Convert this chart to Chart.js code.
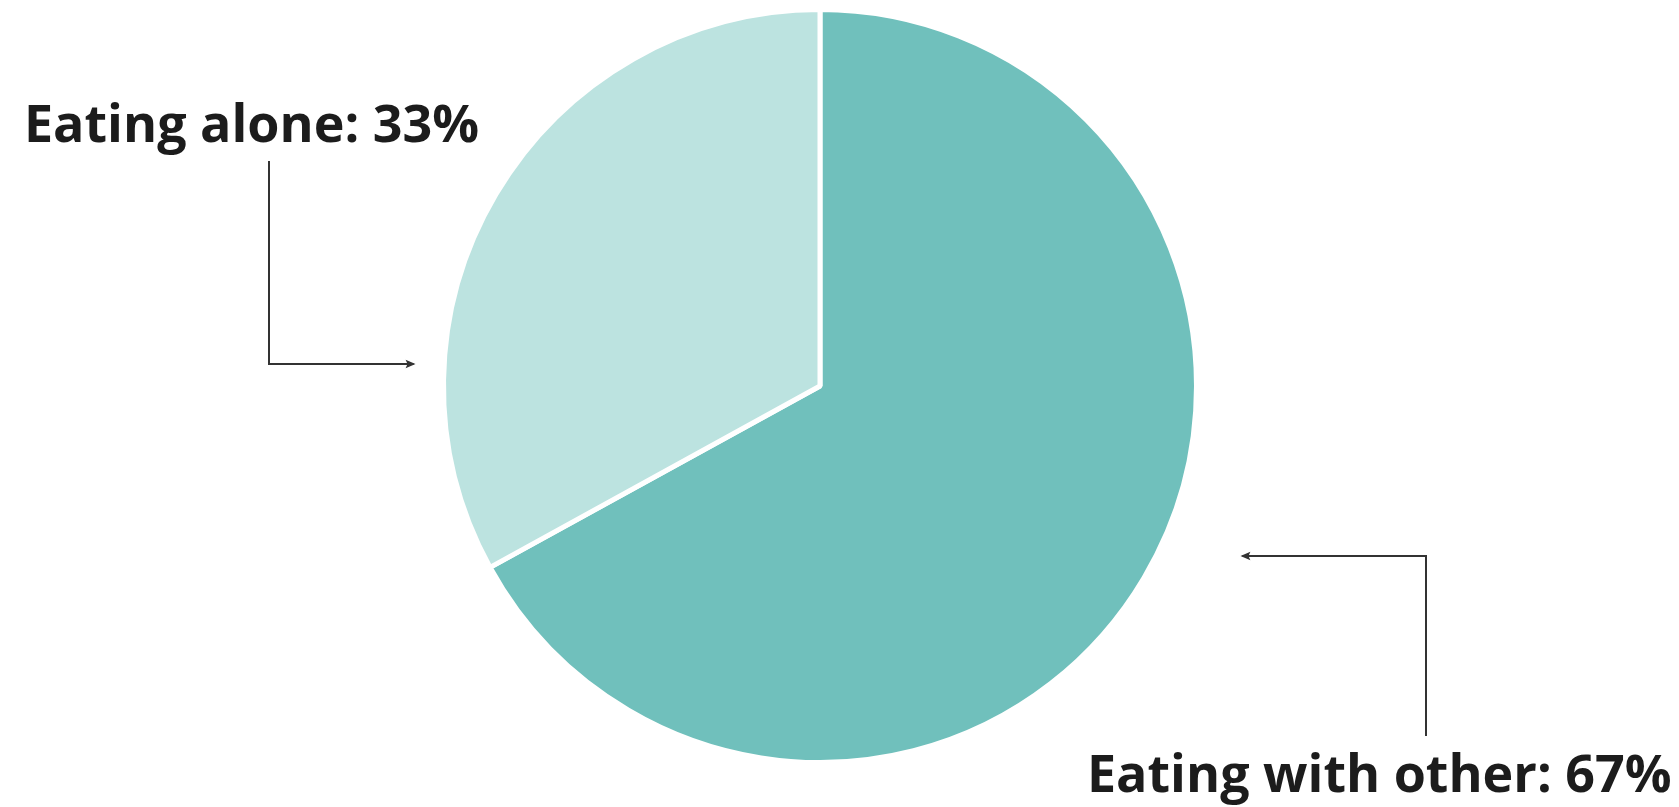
<!DOCTYPE html>
<html>
<head>
<meta charset="utf-8">
<script src="https://cdn.jsdelivr.net/npm/chart.js@4"></script>
<style>
	html, body { margin: 0; padding: 0; background: #fff; }
	#wrap { width: 1679px; height: 807px; position: relative; }
</style>
</head>
<body>
<div id="wrap"><canvas id="pie"></canvas></div>
<script>
const labels = ['Eating with other', 'Eating alone'];
const shares = [67, 33];
const colors = ['#70c0bc', '#bce3e0'];

// callouts: label text, arrow drawn from text to pie edge
const calloutPlugin = {
	id: 'callouts',
	afterDraw(chart) {
		const ctx = chart.ctx;
		const arc = chart.getDatasetMeta(0).data[0];
		const cx = arc.x, r = arc.outerRadius;
		ctx.save();
		ctx.font = 'bold 52px "Open Sans"';
		ctx.fillStyle = '#1c1c1c';
		ctx.textBaseline = 'alphabetic';
		ctx.textAlign = 'left';
		ctx.fillText(`${labels[1]}: ${shares[1]}%`, 24, 142);
		ctx.fillText(`${labels[0]}: ${shares[0]}%`, 1087, 792);

		ctx.strokeStyle = '#333';
		ctx.fillStyle = '#333';
		ctx.lineWidth = 2;
		const arrow = (pts) => {
			ctx.beginPath();
			ctx.moveTo(pts[0][0], pts[0][1]);
			pts.slice(1).forEach(p => ctx.lineTo(p[0], p[1]));
			ctx.stroke();
			const [x1, y1] = pts[pts.length - 2];
			const [x2, y2] = pts[pts.length - 1];
			const a = Math.atan2(y2 - y1, x2 - x1);
			ctx.beginPath();
			ctx.moveTo(x2 + 2 * Math.cos(a), y2);
			ctx.lineTo(x2 - 9 * Math.cos(a - 0.5), y2 - 9 * Math.sin(a - 0.5));
			ctx.lineTo(x2 - 6 * Math.cos(a), y2 - 6 * Math.sin(a));
			ctx.lineTo(x2 - 9 * Math.cos(a + 0.5), y2 - 9 * Math.sin(a + 0.5));
			ctx.closePath();
			ctx.fill();
		};
		arrow([[269, 161], [269, 364], [cx - r - 30, 364]]);
		arrow([[1426, 736], [1426, 556], [cx + r + 46, 556]]);
		ctx.restore();
	}
};

new Chart(document.getElementById('pie'), {
	type: 'pie',
	data: {
		labels,
		datasets: [{
			data: shares,
			backgroundColor: colors,
			borderColor: '#ffffff',
			borderWidth: 5
		}]
	},
	options: {
		responsive: true,
		maintainAspectRatio: false,
		animation: false,
		layout: { padding: { left: 0, right: 39, top: 7, bottom: 42 } },
		plugins: {
			legend: { display: false },
			tooltip: { enabled: false }
		}
	},
	plugins: [calloutPlugin]
});
</script>
</body>
</html>
